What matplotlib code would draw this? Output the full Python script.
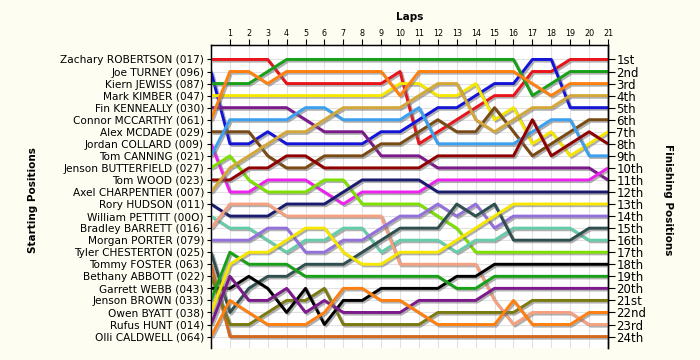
import matplotlib
matplotlib.use("Agg")
import matplotlib.pyplot as plt
import matplotlib.patheffects as pe

laps = list(range(22))

drivers = [
    "Zachary ROBERTSON (017)", "Joe TURNEY (096)", "Kiern JEWISS (087)",
    "Mark KIMBER (047)", "Fin KENNEALLY (030)", "Connor MCCARTHY (061)",
    "Alex MCDADE (029)", "Jordan COLLARD (009)", "Tom CANNING (021)",
    "Jenson BUTTERFIELD (027)", "Tom WOOD (023)", "Axel CHARPENTIER (007)",
    "Rory HUDSON (011)", "William PETTITT (00O)", "Bradley BARRETT (016)",
    "Morgan PORTER (079)", "Tyler CHESTERTON (025)", "Tommy FOSTER (063)",
    "Bethany ABBOTT (022)", "Garrett WEBB (043)", "Jenson BROWN (033)",
    "Owen BYATT (038)", "Rufus HUNT (014)", "Olli CALDWELL (064)",
]

finish_labels = [
    "1st", "2nd", "3rd", "4th", "5th", "6th", "7th", "8th", "9th", "10th",
    "11th", "12th", "13th", "14th", "15th", "16th", "17th", "18th", "19th",
    "20th", "21st", "22nd", "23rd", "24th",
]

# position of each driver at the end of every lap (lap 0 = grid)
robertson = [1, 1, 1, 1, 3, 3, 3, 3, 3, 3, 2, 8, 7, 6, 5, 4, 4, 2, 2, 1, 1, 1]
turney = [2, 8, 8, 7, 8, 8, 8, 8, 8, 7, 7, 6, 5, 5, 4, 3, 3, 1, 1, 5, 5, 5]
jewiss = [3, 3, 3, 2, 1, 1, 1, 1, 1, 1, 1, 1, 1, 1, 1, 1, 1, 4, 3, 2, 2, 2]
kimber = [4, 4, 4, 4, 4, 4, 4, 4, 4, 4, 3, 3, 4, 4, 3, 6, 5, 8, 7, 9, 8, 7]
kenneally = [5, 5, 5, 5, 5, 6, 7, 7, 7, 9, 9, 9, 10, 10, 10, 10, 10, 10, 10, 10, 10, 11]
mccarthy = [6, 2, 2, 3, 2, 2, 2, 2, 2, 2, 4, 2, 2, 2, 2, 2, 2, 3, 4, 3, 3, 3]
mcdade = [7, 7, 7, 9, 10, 10, 9, 9, 9, 8, 8, 7, 6, 7, 7, 5, 7, 9, 8, 7, 6, 6]
collard = [8, 12, 12, 11, 11, 11, 12, 13, 12, 12, 12, 12, 11, 11, 11, 11, 11, 11, 11, 11, 11, 10]
canning = [9, 6, 6, 6, 6, 5, 5, 6, 6, 6, 6, 5, 8, 8, 8, 8, 8, 7, 6, 6, 9, 9]
butterfield = [10, 9, 11, 12, 12, 12, 11, 11, 13, 13, 13, 13, 14, 15, 17, 17, 17, 17, 17, 17, 17, 17]
wood = [11, 11, 10, 10, 9, 9, 10, 10, 10, 10, 10, 10, 9, 9, 9, 9, 9, 6, 9, 8, 7, 8]
charpentier = [12, 10, 9, 8, 7, 7, 6, 5, 5, 5, 5, 4, 3, 3, 6, 7, 6, 5, 5, 4, 4, 4]
hudson = [13, 14, 14, 14, 13, 13, 13, 12, 11, 11, 11, 11, 12, 12, 12, 12, 12, 12, 12, 12, 12, 12]
pettitt = [14, 15, 15, 16, 17, 16, 16, 15, 15, 17, 16, 16, 16, 17, 16, 16, 15, 15, 15, 15, 16, 16]
barrett = [15, 13, 13, 13, 14, 14, 14, 14, 14, 14, 18, 18, 18, 18, 18, 21, 23, 22, 22, 22, 23, 23]
porter = [16, 16, 16, 15, 15, 17, 17, 16, 16, 15, 14, 14, 13, 14, 13, 15, 14, 14, 14, 14, 14, 14]
chesterton = [17, 22, 20, 19, 19, 18, 18, 18, 17, 16, 15, 15, 15, 13, 14, 13, 16, 16, 16, 16, 15, 15]
foster = [18, 24, 24, 24, 24, 24, 24, 24, 24, 24, 24, 24, 24, 24, 24, 24, 24, 24, 24, 24, 24, 24]
abbott = [19, 23, 23, 22, 21, 21, 20, 23, 23, 23, 23, 23, 22, 22, 22, 22, 22, 21, 21, 21, 21, 21]
webb = [20, 20, 19, 20, 22, 20, 23, 21, 21, 20, 20, 20, 20, 19, 19, 18, 18, 18, 18, 18, 18, 18]
brown = [21, 17, 18, 18, 18, 19, 19, 19, 19, 19, 19, 19, 19, 20, 20, 19, 19, 19, 19, 19, 19, 19]
byatt = [22, 18, 17, 17, 16, 15, 15, 17, 18, 18, 17, 17, 17, 16, 15, 14, 13, 13, 13, 13, 13, 13]
hunt = [23, 19, 21, 21, 20, 22, 21, 22, 22, 22, 22, 21, 21, 21, 21, 20, 20, 20, 20, 20, 20, 20]
caldwell = [24, 21, 22, 23, 23, 23, 22, 20, 20, 21, 21, 22, 23, 23, 23, 23, 21, 23, 23, 23, 22, 22]

positions = [robertson, turney, jewiss, kimber, kenneally, mccarthy, mcdade,
             collard, canning, butterfield, wood, charpentier, hudson, pettitt,
             barrett, porter, chesterton, foster, abbott, webb, brown, byatt,
             hunt, caldwell]

colours = ["#e8141b", "#1414d8", "#18a018", "#f7e600", "#7c1a8c", "#ff8010",
           "#7a4a14", "#ee22ee", "#3ca0f0", "#7ee000", "#900000", "#d4a838",
           "#1a1a6e", "#66cdaa", "#f5a080", "#9370db", "#2f4f4f", "#d2691e",
           "#7a7a10", "#000000", "#18a018", "#f7e600", "#7c1a8c", "#ff8010"]

bg = "#fdfdf2"
fig = plt.figure(figsize=(7, 3.6), dpi=100, facecolor=bg)
ax = fig.add_axes([211 / 700, 12 / 360, 397 / 700, 303 / 360])
ax.set_facecolor("white")

shadow = [pe.SimpleLineShadow(offset=(1.2, -1.2), shadow_color="#707070", alpha=0.55),
          pe.Normal()]
for pos, col in zip(positions, colours):
    ax.plot(laps, pos, color=col, lw=2.1, solid_joinstyle="round",
            solid_capstyle="butt", path_effects=shadow, zorder=3)

ax.set_xlim(0, 21)
ax.set_ylim(24.95, -0.2)

ax.xaxis.tick_top()
ax.set_xticks(range(1, 22))
ax.set_xticklabels([str(i) for i in range(1, 22)], fontsize=5.8)
ax.tick_params(axis="x", length=4, width=0.8, pad=1)
ax.set_yticks(range(1, 25))
ax.set_yticklabels(drivers, fontsize=7.6)
ax.tick_params(axis="y", length=3, width=0.8, pad=2)
ax.grid(True, color="#e2e2e2", lw=0.8, zorder=0)
ax.set_axisbelow(True)

for s in ["left", "top", "right"]:
    ax.spines[s].set_linewidth(1.0)
ax.spines["bottom"].set_visible(False)

ax2 = ax.twinx()
ax2.set_ylim(24.95, -0.2)
ax2.set_yticks(range(1, 25))
ax2.set_yticklabels(finish_labels, fontsize=8.5)
ax2.tick_params(axis="y", length=5, width=0.8, pad=1)
ax2.spines["bottom"].set_visible(False)
ax2.spines["right"].set_linewidth(1.0)

fig.text(410 / 700, 1 - 17 / 360, "Laps", ha="center", va="center",
         fontsize=7.5, fontweight="bold")
fig.text(33 / 700, 1 - 200 / 360, "Starting Positions", ha="center", va="center",
         rotation=90, fontsize=7.5, fontweight="bold")
fig.text(668 / 700, 1 - 200 / 360, "Finishing Positions", ha="center", va="center",
         rotation=270, fontsize=7.5, fontweight="bold")

fig.savefig("out.png", dpi=100, facecolor=bg)
